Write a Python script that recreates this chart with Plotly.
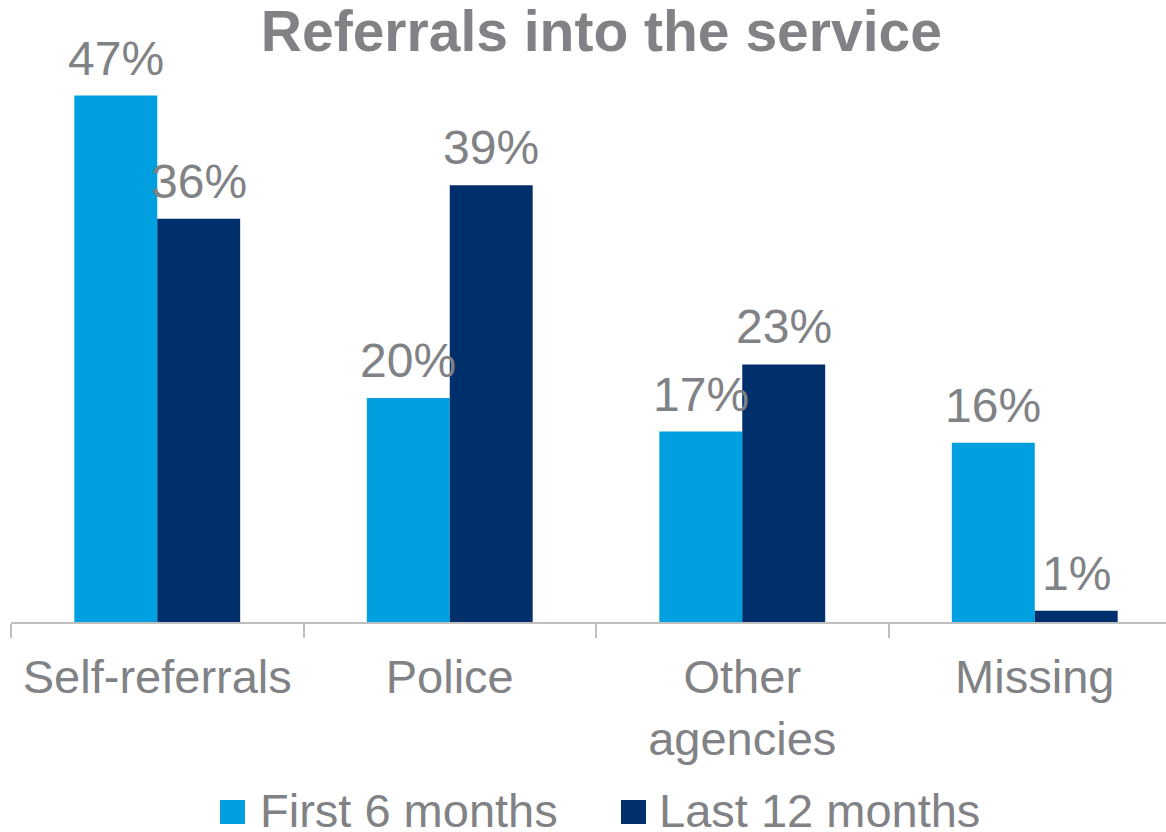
import plotly.graph_objects as go

# Referral sources and share of referrals (%) for the two periods
categories = ["Self-referrals", "Police", "Other<br>agencies", "Missing"]
series_names = ["First 6 months", "Last 12 months"]
first_6_months = [47, 20, 17, 16]
last_12_months = [36, 39, 23, 1]
series_values = [first_6_months, last_12_months]
series_colors = ["#009FDF", "#002F6C"]

W, H = 1166, 832
M_L, M_R, M_T, M_B = 11, 0, 62, 210
PW = W - M_L - M_R
PH = H - M_T - M_B
CAT_W = 292.5          # pixel width of one category slot
BARGAP = 0.433
BAR_W = CAT_W * (1 - BARGAP) / 2

GRAY = "#808285"
FONT = "Liberation Sans, Arial, sans-serif"

fig = go.Figure()
for name, vals, col in zip(series_names, series_values, series_colors):
    fig.add_trace(go.Bar(
        x=categories, y=vals, name=name,
        marker=dict(color=col, line=dict(width=0)),
        cliponaxis=False,
        showlegend=False,
    ))

annotations = []
# value labels above each bar
for k, vals in enumerate(series_values):
    offset = (k - 0.5) * BAR_W
    for cat, v in zip(categories, vals):
        annotations.append(dict(x=cat, y=v, xref="x", yref="y",
                                xshift=offset, yshift=9,
                                xanchor="center", yanchor="bottom",
                                showarrow=False, text=f"{v}%",
                                font=dict(size=48, color=GRAY, family=FONT)))

# legend drawn as coloured squares with labels beneath the axis
def px_x(p):
    return (p - M_L) / PW

def px_y(p):
    return (H - M_B - p) / PH

legend_items = [(220, 258), (621, 657)]
shapes = []
for (sx, tx), name, col in zip(legend_items, series_names, series_colors):
    shapes.append(dict(type="rect", xref="paper", yref="paper",
                       x0=px_x(sx), x1=px_x(sx + 25),
                       y0=px_y(800), y1=px_y(824),
                       fillcolor=col, line=dict(width=0)))
    annotations.append(dict(xref="paper", yref="paper", x=px_x(tx), y=px_y(810),
                            xanchor="left", yanchor="middle", showarrow=False,
                            text=name, font=dict(size=47, color=GRAY, family=FONT)))

fig.update_layout(
    width=W, height=H,
    margin=dict(l=M_L, r=M_R, t=M_T, b=M_B, pad=0),
    paper_bgcolor="white", plot_bgcolor="white",
    barmode="group", bargap=BARGAP, bargroupgap=0,
    title=dict(text="<b>Referrals into the service</b>",
               x=596 / W, xanchor="center", xref="paper",
               y=1 - 31 / H, yanchor="middle", yref="container",
               font=dict(size=57, color=GRAY, family=FONT)),
    xaxis=dict(type="category", range=[-0.5, -0.5 + PW / CAT_W],
               showline=True, linecolor="#BFBFBF", linewidth=2,
               ticks="outside", tickson="boundaries", ticklen=14,
               tickcolor="#BFBFBF", tickwidth=2,
               ticklabelstandoff=13,
               tickfont=dict(size=47, color=GRAY, family=FONT),
               showgrid=False, zeroline=False),
    yaxis=dict(range=[0, PH / 11.2], visible=False, showgrid=False),
    shapes=shapes,
    annotations=annotations,
)

fig.write_html("out.html")
